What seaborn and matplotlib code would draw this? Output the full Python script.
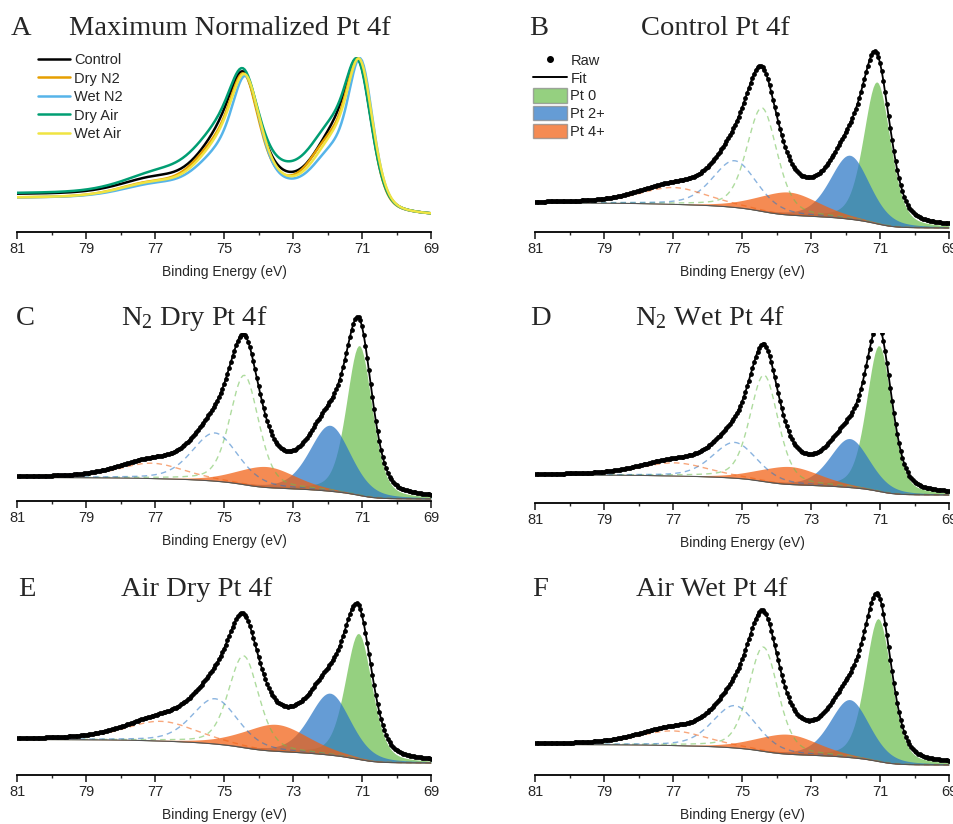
import numpy as np
import pandas as pd
import matplotlib
matplotlib.use("Agg")
import matplotlib.pyplot as plt
from matplotlib.patches import Patch, Rectangle
from matplotlib.lines import Line2D
from matplotlib.ticker import AutoMinorLocator
import seaborn as sns

# ---- values (intensity in arbitrary units) ----
conditions = ["Control", "Dry N2", "Wet N2", "Dry Air", "Wet Air"]
condition_colors = ["black", "#E69F00", "#56B4E9", "#009E73", "#F0E442"]
panel_letters = ["B", "C", "D", "E", "F"]
panel_titles = ["Control Pt 4f", r"N$_2$ Dry Pt 4f", r"N$_2$ Wet Pt 4f",
                "Air Dry Pt 4f", "Air Wet Pt 4f"]
species = ["Pt 0", "Pt 2+", "Pt 4+"]
species_colors = ["#6cbf4f", "#2a76c6", "#f25f10"]

# Pt 4f7/2 components per condition: centre (eV), height, FWHM (eV)
pt0_center = [71.09, 71.08, 71.03, 71.10, 71.05]
pt0_height = [142, 150, 146, 126, 143]
pt0_fwhm = [0.92, 0.88, 0.86, 0.92, 0.90]
pt2_center = [71.88, 71.93, 71.88, 71.93, 71.88]
pt2_height = [64, 66, 49, 62, 58]
pt2_fwhm = [1.35, 1.40, 1.35, 1.40, 1.35]
pt4_center = [73.65, 73.77, 73.62, 73.50, 73.68]
pt4_height = [23, 21, 18, 27, 20]
pt4_fwhm = [2.1, 2.0, 2.1, 2.2, 2.1]
# Shirley background end levels (81 eV side, 69 eV side)
bg_high = [29.0, 23.5, 28.0, 35.5, 30.5]
bg_low = [4.0, 2.0, 8.0, 12.0, 10.0]
so_split = 3.33   # 4f5/2 - 4f7/2 separation (eV)
so_ratio = 0.73   # 4f5/2 : 4f7/2 peak height
so_width = 1.12   # 4f5/2 FWHM relative to 4f7/2
lorentz_frac = 0.35

energy = np.linspace(69, 81, 241)

W, H = 954, 824


def pv(x, c, h, w):
    d = 4 * (x - c) ** 2 / w ** 2
    return h * ((1 - lorentz_frac) * np.exp(-np.log(2) * d) + lorentz_frac / (1 + d))


def spectrum(i):
    pars = [(pt0_center[i], pt0_height[i], pt0_fwhm[i]),
            (pt2_center[i], pt2_height[i], pt2_fwhm[i]),
            (pt4_center[i], pt4_height[i], pt4_fwhm[i])]
    p72 = [pv(energy, c, h, w) for c, h, w in pars]
    p52 = [pv(energy, c + so_split, h * so_ratio, w * so_width) for c, h, w in pars]
    peaks = sum(p72) + sum(p52)
    cum = np.cumsum(peaks)
    bg = bg_low[i] + (bg_high[i] - bg_low[i]) * cum / cum[-1]
    return p72, p52, bg, bg + peaks


def add_axes(l, r, t, b):
    return fig.add_axes([l / W, 1 - b / H, (r - l) / W, (b - t) / H])


def style(ax):
    ax.set_xlim(81, 69)
    ax.set_xticks(np.arange(69, 82, 2))
    ax.xaxis.set_minor_locator(AutoMinorLocator(2))
    ax.tick_params(axis="x", which="major", direction="out", length=5, width=1.2,
                   labelsize=10.5, pad=2, bottom=True)
    ax.tick_params(axis="x", which="minor", direction="out", length=2.5, width=1.0, bottom=True)
    ax.set_yticks([])
    for s in ["left", "right", "top"]:
        ax.spines[s].set_visible(False)
    ax.spines["bottom"].set_linewidth(1.3)
    ax.spines["bottom"].set_color("black")
    ax.set_facecolor("none")
    ax.set_xlabel("Binding Energy (eV)", fontsize=10, labelpad=7)
    ax.set_ylabel("")


sns.set_theme(style="white")
plt.rcParams["font.family"] = ["Liberation Sans", "DejaVu Sans"]
plt.rcParams["mathtext.fontset"] = "custom"
plt.rcParams["mathtext.rm"] = "Liberation Serif"
plt.rcParams["mathtext.it"] = "Liberation Serif:italic"

fig = plt.figure(figsize=(W / 100, H / 100), dpi=100, facecolor="white")

boxes = {"A": (0, 463, 0, 46), "B": (517, 887, 0, 46), "C": (0, 313, 292, 333),
         "D": (515, 887, 292, 333), "E": (0, 333, 565, 605), "F": (517, 857, 565, 605)}
title_pos = {"A": (21, 230, 35), "B": (539, 715, 35), "C": (25, 194, 325),
             "D": (540, 710, 325), "E": (27, 197, 596), "F": (540, 712, 596)}
axes_box = {"A": (17, 431, 40, 232), "B": (535, 949, 40, 232),
            "C": (17, 431, 305, 501), "D": (535, 949, 310, 503),
            "E": (17, 431, 585, 775), "F": (535, 949, 585, 775)}

# ---- panel A: max-normalised totals ----
rows = []
for i, cond in enumerate(conditions):
    tot = spectrum(i)[3]
    norm = (tot - tot.min()) / (tot.max() - tot.min())
    rows.append(pd.DataFrame({"energy": energy, "norm": norm, "condition": cond}))
df_a = pd.concat(rows, ignore_index=True)

l, r, t, b = axes_box["A"]
ax = add_axes(l, r, t, b)
sns.lineplot(data=df_a, x="energy", y="norm", hue="condition", hue_order=conditions,
             palette=condition_colors, lw=1.8, legend=False, ax=ax)
y0 = -(232 - 213.3) / 155
ax.set_ylim(y0, y0 + (b - t) / 155)
style(ax)
ax.legend(handles=[Line2D([], [], color=c, lw=1.8) for c in condition_colors],
          labels=conditions, loc="upper left", bbox_to_anchor=(38 / W, 1 - 53 / H),
          bbox_transform=fig.transFigure, frameon=False, fontsize=10.5,
          handlelength=2.2, handletextpad=0.27, labelspacing=0.31, borderpad=0,
          borderaxespad=0)

# ---- panels B-F: component fits ----
for i, letter in enumerate(panel_letters):
    l, r, t, b = axes_box[letter]
    ax = add_axes(l, r, t, b)
    p72, p52, bg, tot = spectrum(i)
    for comp, c in zip(p72, species_colors):
        ax.fill_between(energy, bg, bg + comp, color=c, alpha=0.72, lw=0)
    for comp, c in zip(p52, species_colors):
        ax.plot(energy, bg + comp, color=c, lw=1.0, alpha=0.55, ls=(0, (4, 3)))
    ax.plot(energy, bg, color="#555555", lw=0.8)
    sns.lineplot(x=energy, y=tot, color="black", lw=1.3, ax=ax)
    sns.scatterplot(x=energy, y=tot, color="black", s=12, linewidth=0, ax=ax, zorder=4)
    ax.set_ylim(0, b - t)
    style(ax)
    if letter == "B":
        handles = [Line2D([], [], color="black", marker="o", ms=4, ls="none"),
                   Line2D([], [], color="black", lw=1.4)]
        handles += [Patch(facecolor=c, edgecolor="#8a8a8a", alpha=0.72) for c in species_colors]
        ax.legend(handles=handles, labels=["Raw", "Fit"] + species, loc="upper left",
                  bbox_to_anchor=(533 / W, 1 - 53 / H), bbox_transform=fig.transFigure,
                  frameon=False, fontsize=10.5, handlelength=2.3, handleheight=1.15,
                  handletextpad=0.27, labelspacing=0.17, borderpad=0, borderaxespad=0)

# ---- title boxes and titles ----
for key, (x0, x1, y0b, y1b) in boxes.items():
    fig.add_artist(Rectangle((x0 / W, 1 - y1b / H), (x1 - x0) / W, (y1b - y0b) / H,
                             transform=fig.transFigure, fc="white", ec="none", zorder=2))
titles = ["Maximum Normalized Pt 4f"] + panel_titles
for key, title in zip(["A"] + panel_letters, titles):
    xl, xt, yb = title_pos[key]
    fig.text(xl / W, 1 - yb / H, key, ha="center", va="baseline", fontsize=20.5,
             family="Liberation Serif", zorder=3)
    fig.text(xt / W, 1 - yb / H, title, ha="center", va="baseline", fontsize=20.5,
             family="Liberation Serif", zorder=3)

fig.savefig("out.png", dpi=100, facecolor="white")
